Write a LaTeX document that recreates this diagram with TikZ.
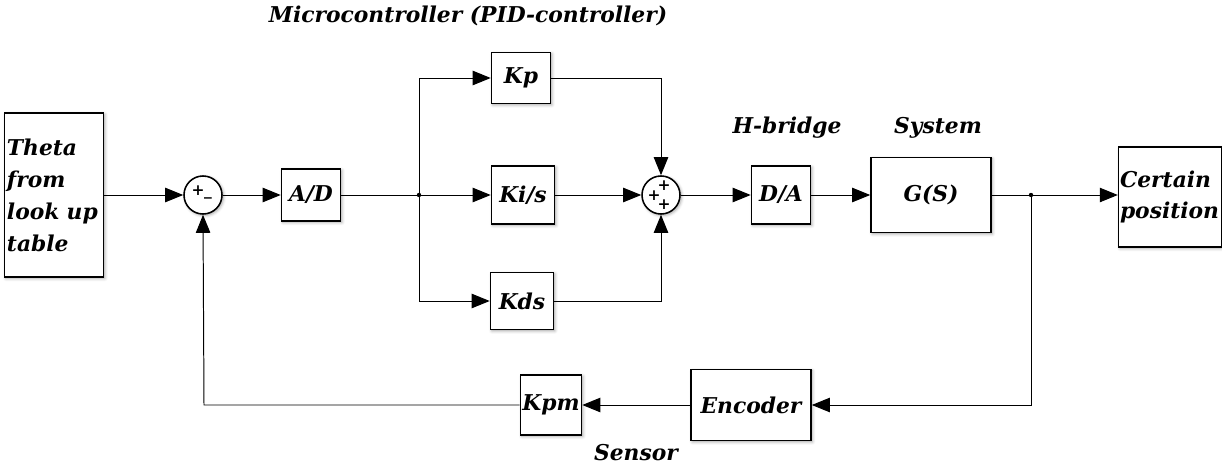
\documentclass[tikz,border=0pt]{standalone}
\usepackage{fontspec}
\setmainfont{DejaVu Serif}
\usetikzlibrary{arrows.meta,calc,positioning,shadows.blur}

\tikzset{
  block/.style={draw,line width=1.1pt,fill=white,align=center,inner sep=1pt,
    blur shadow={shadow xshift=1pt,shadow yshift=-1pt,shadow blur steps=4,shadow opacity=35}},
  sumnode/.style={circle,draw,line width=1.1pt,fill=white,minimum size=0.95cm,inner sep=0pt,
    blur shadow={shadow xshift=1pt,shadow yshift=-1pt,shadow blur steps=4,shadow opacity=35}},
  sign/.style={inner sep=0pt,font=\fontsize{11}{11}\selectfont\bfseries},
  signal/.style={-{Triangle[length=4.5mm,width=3.6mm]},line width=0.7pt},
  wire/.style={line width=0.7pt}
}

\begin{document}
\begin{tikzpicture}[x=0.025cm,y=-0.025cm,font=\fontsize{15.5}{22.7}\selectfont\bfseries\itshape]
  \useasboundingbox (0,0) rectangle (1222,466);
  % forward path
  \node[block,minimum width=2.475cm,minimum height=4.1cm,text width=2.35cm,align=left] (theta) at (54,195) {Theta\\from\\look up\\table};
  \node[sumnode] (sumin) at (203,195) {};
  \node[sign] at ($(sumin)+(-5,-4)$) {+};
  \node[sign] at ($(sumin)+(5,2)$) {\_};
  \node[block,minimum width=1.475cm,minimum height=1.3cm] (ad) at (311,195) {A/D};
  \coordinate (split) at (419,195);
  \node[block,minimum width=1.475cm,minimum height=1.275cm] (kp) at (521,78) {Kp};
  \node[block,minimum width=1.575cm,minimum height=1.45cm] (ki) at (523,195) {Ki/s};
  \node[block,minimum width=1.575cm,minimum height=1.425cm] (kd) at (522,301) {Kds};
  \node[sumnode] (sumpid) at (661,195) {};
  \node[sign] at ($(sumpid)+(3,-9)$) {+};
  \node[sign] at ($(sumpid)+(-7,1)$) {+};
  \node[sign] at ($(sumpid)+(3,10)$) {+};
  \node[block,minimum width=1.475cm,minimum height=1.45cm] (da) at (781,195) {D/A};
  \node[block,minimum width=3cm,minimum height=1.875cm] (plant) at (931,195) {G(S)};
  \coordinate (tap) at (1031,195);
  \node[block,minimum width=2.525cm,minimum height=2.5cm,text width=2.5cm,align=left] (out) at (1170,197) {Certain\\position};
  % feedback path
  \node[block,minimum width=3cm,minimum height=1.775cm] (enc) at (751,405) {Encoder};
  \node[block,minimum width=1.525cm,minimum height=1.5cm] (kpm) at (551,405) {Kpm};
  \coordinate (fbright) at (1031,405);
  \coordinate (fbleft) at (204,405);
  % labels
  \node at (468,16) {Microcontroller (PID-controller)};
  \node at (787,128) {H-bridge};
  \node at (938,128) {System};
  \node at (636,453) {Sensor};
  % connectors
  \draw[signal] (theta.east) -- (sumin.west);
  \draw[signal] (sumin.east) -- (ad.west);
  \draw[wire] (ad.east) -- (split);
  \fill (split) circle (2.2);
  \draw[signal] (split) |- (kp.west);
  \draw[signal] (split) -- (ki.west);
  \draw[signal] (split) |- (kd.west);
  \draw[signal] (kp.east) -| (sumpid.north);
  \draw[signal] (ki.east) -- (sumpid.west);
  \draw[signal] (kd.east) -| (sumpid.south);
  \draw[signal] (sumpid.east) -- (da.west);
  \draw[signal] (da.east) -- (plant.west);
  \draw[wire] (plant.east) -- (tap);
  \fill (tap) circle (2.2);
  \draw[signal] (tap) -- (tap -| out.west);
  \draw[signal] (tap) -- (fbright) -- (enc.east);
  \draw[signal] (enc.west) -- (kpm.east);
  \draw[signal] (kpm.west) -- (fbleft) -- (sumin.south);
\end{tikzpicture}
\end{document}
